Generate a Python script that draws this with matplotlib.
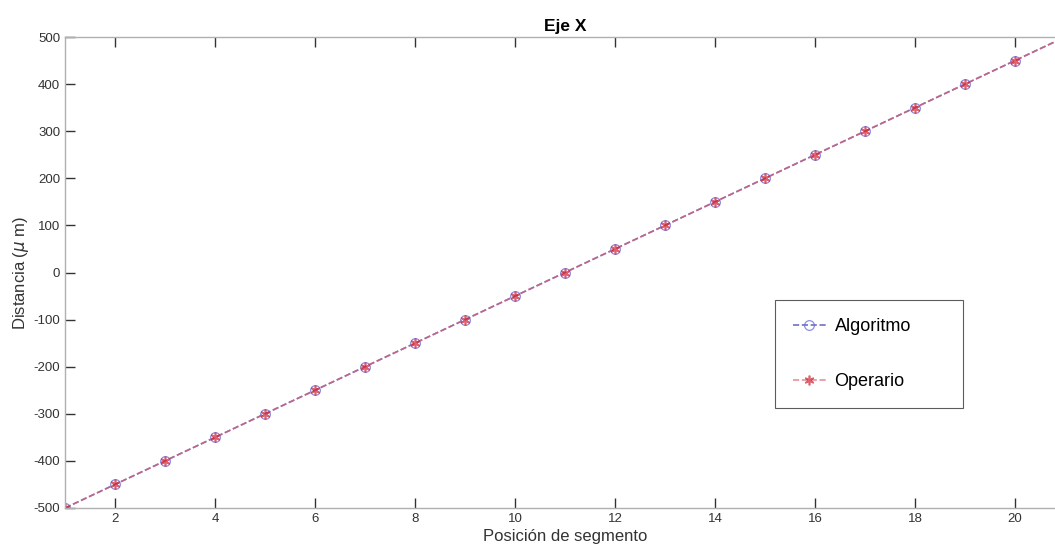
import numpy as np
import matplotlib
matplotlib.use('Agg')
import matplotlib.pyplot as plt

plt.rcParams['font.family'] = ['Liberation Sans', 'DejaVu Sans']
plt.rcParams['axes.unicode_minus'] = False

segmento = np.arange(1, 22)
algoritmo = [-500, -450, -400, -350, -300, -250, -200, -150, -100, -50, 0,
             50, 100, 150, 200, 250, 300, 350, 400, 450, 500]
operario = [-500, -450, -400, -350, -300, -250, -200, -150, -100, -50, 0,
            50, 100, 150, 200, 250, 300, 350, 400, 450, 500]
xticks = list(range(2, 21, 2))
yticks = list(range(-500, 501, 100))

fig = plt.figure(figsize=(10.55, 5.57), dpi=100)
ax = fig.add_axes([65 / 1055, 1 - 508 / 557, 1000 / 1055, 471 / 557])

ax.plot(segmento, algoritmo, linestyle='--', color='#4040b0', alpha=0.75, lw=1.2,
        marker='o', markersize=7, markerfacecolor='none', markeredgecolor='#6a6ad8',
        markeredgewidth=0.9, label='Algoritmo')
ax.plot(segmento, operario, linestyle='--', color='#e06070', alpha=0.7, lw=1.2,
        marker=(6, 2, 0), markersize=7, markeredgecolor='#d02030',
        markeredgewidth=1.2, label='Operario')

ax.set_xlim(1, 21)
ax.set_ylim(-500, 500)
ax.set_xticks(xticks)
ax.set_yticks(yticks)
ax.tick_params(direction='in', top=True, right=True, length=7, width=1,
               color='#333333', labelsize=9.5, labelcolor='#333333')
for s in ax.spines.values():
    s.set_color('#b0b0b0')
    s.set_linewidth(1)

ax.set_title('Eje X', fontsize=12.5, fontweight='bold', pad=4)
ax.set_xlabel('Posición de segmento', fontsize=12, color='#333333', labelpad=3)
ax.set_ylabel(r'Distancia ($\mu$ m)', fontsize=12, color='#333333', labelpad=2)

# legend box: 775..963 px wide, 300..405 px tall
leg = fig.legend(loc='upper left',
                 bbox_to_anchor=(775 / 1055, 1 - 405 / 557,
                                 (963 - 775) / 1055, 105 / 557),
                 mode='expand', frameon=True, fancybox=False, fontsize=13,
                 handlelength=1.8, labelspacing=2.1, borderpad=1.0,
                 handletextpad=0.5, borderaxespad=0)
leg.get_frame().set_edgecolor('#333333')
leg.get_frame().set_linewidth(0.8)

fig.savefig('out.png', dpi=100)
